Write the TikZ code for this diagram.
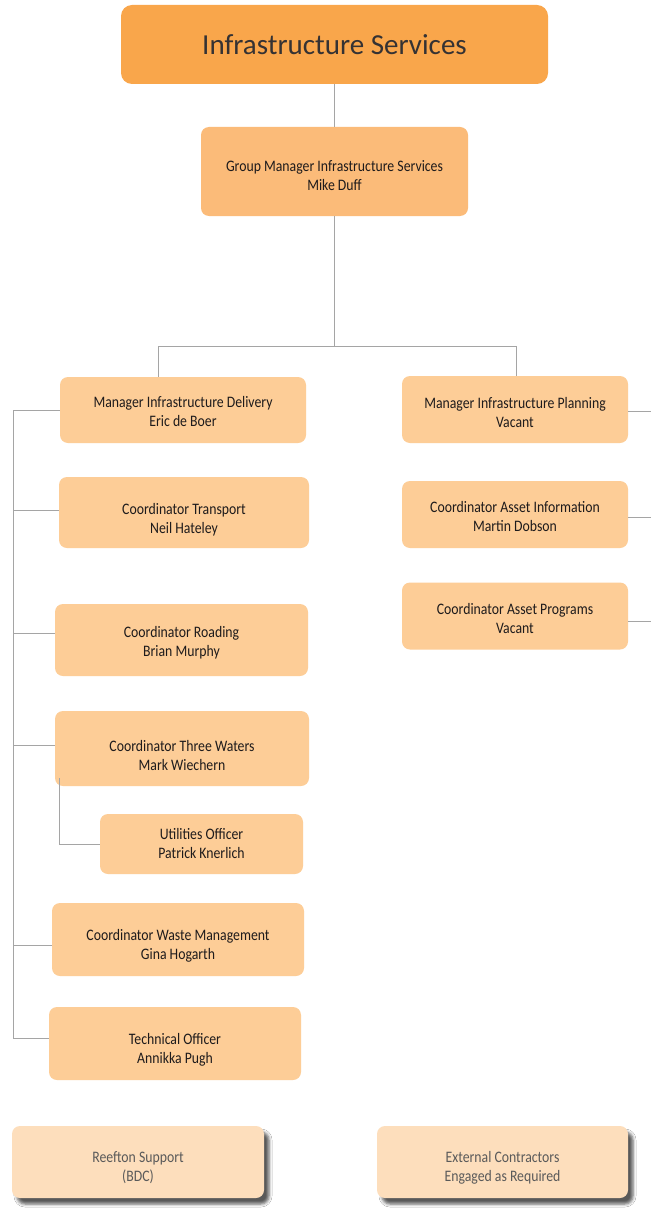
\documentclass[tikz,border=0pt]{standalone}
\usepackage{fontspec}
\setmainfont{Carlito}
\newfontfamily\narrowfont[FakeStretch=0.86]{Carlito}
\usetikzlibrary{shadows.blur}
\usepackage{xcolor}
\definecolor{titleorange}{RGB}{249,166,75}
\definecolor{headorange}{RGB}{251,187,121}
\definecolor{boxorange}{RGB}{253,205,151}
\definecolor{paleorange}{RGB}{253,222,188}
\definecolor{linegrey}{RGB}{165,165,165}
\definecolor{textdark}{RGB}{30,27,28}
\definecolor{textgrey}{RGB}{90,90,90}
\tikzset{
    orgbox/.style={
        rectangle,
        rounded corners=8pt,
        fill=boxorange,
        inner sep=0pt
    },
    orgtext/.style={
        text=textdark,
        align=center,
        inner sep=0pt,
        font=\narrowfont\fontsize{16}{19}\selectfont
    },
    titlebox/.style={
        orgbox,
        rounded corners=11pt,
        fill=titleorange,
        text=textdark!90,
        font=\fontsize{29}{32}\selectfont
    },
    extbox/.style={
        orgbox,
        fill=paleorange,
        blur shadow={shadow xshift=5pt, shadow yshift=-6pt,
            shadow blur radius=3pt, shadow opacity=65}
    },
    orgline/.style={
        draw=linegrey,
        line width=0.9pt
    }
}

\begin{document}
\begin{tikzpicture}[x=1pt,y=-1pt]

\fill[white] (0,0) rectangle (651,1209);
\useasboundingbox (0,0) rectangle (651,1209);

% ---------------------------------------------------------
% Top of the structure
% ---------------------------------------------------------
\node[titlebox, minimum width=427pt, minimum height=79pt]
    (title) at (334.5,44.5) {Infrastructure Services};

\node[orgbox, fill=headorange, minimum width=267pt, minimum height=89pt,
    label={[orgtext, yshift=-4pt]center:{Group Manager Infrastructure Services\\Mike Duff}}]
    (gm) at (334.5,171.5) {};

% ---------------------------------------------------------
% Delivery column
% ---------------------------------------------------------
\foreach \n/\cx/\cy/\w/\h/\dy/\role/\who in {
    mid/183/410/246/66/1/Manager Infrastructure Delivery/Eric de Boer,
    trans/184/512.5/250/71/7/Coordinator Transport/Neil Hateley,
    road/181.5/640/253/72/3/Coordinator Roading/Brian Murphy,
    water/182/748.5/254/75/7/Coordinator Three Waters/Mark Wiechern,
    util/201.5/844/203/60/-1/Utilities Officer/Patrick Knerlich,
    waste/178/939.5/252/73/6/Coordinator Waste Management/Gina Hogarth,
    tech/175/1043.5/252/73/6/Technical Officer/Annikka Pugh
}
{
    \node[orgbox, minimum width=\w pt, minimum height=\h pt,
        label={[orgtext, yshift=-\dy pt]center:{\role\\\who}}]
        (\n) at (\cx,\cy) {};
}

% ---------------------------------------------------------
% Planning column
% ---------------------------------------------------------
\foreach \n/\cy/\dy/\role/\who in {
    mip/409.5/3/Manager Infrastructure Planning/Vacant,
    cai/514.5/2/Coordinator Asset Information/Martin Dobson,
    cap/616/2/Coordinator Asset Programs/Vacant
}
{
    \node[orgbox, minimum width=226pt, minimum height=67pt,
        label={[orgtext, yshift=-\dy pt]center:{\role\\\who}}]
        (\n) at (515,\cy) {};
}

% ---------------------------------------------------------
% Outside support
% ---------------------------------------------------------
\node[extbox, minimum width=252pt, minimum height=72pt,
    label={[orgtext, text=textgrey, yshift=-6pt]center:{Reefton Support\\(BDC)}}]
    (reef) at (138,1162) {};
\node[extbox, minimum width=251pt, minimum height=72pt,
    label={[orgtext, text=textgrey, yshift=-6pt]center:{External Contractors\\Engaged as Required}}]
    (ext) at (502.5,1162) {};

% ---------------------------------------------------------
% Connectors
% ---------------------------------------------------------
\coordinate (splitL) at (158,346);
\coordinate (splitR) at (516,346);
\coordinate (trunk) at (13,410);
\coordinate (rightedge) at (651,410);

\draw[orgline] (title.south) -- (gm.north);
\draw[orgline] (gm.south) -- (gm.south |- splitL);
\draw[orgline] (splitL) -- (splitR);
\draw[orgline] (splitL) -- (splitL |- mid.north);
\draw[orgline] (splitR) -- (splitR |- mip.north);

% delivery trunk and its branches
\draw[orgline] (mid.west -| trunk) -- ([yshift=5.5pt]tech.west -| trunk);
\foreach \n/\sy in {mid/0,trans/2.5,road/7,water/3.5,waste/-5.5,tech/5.5}
    \draw[orgline] ([yshift=\sy pt]\n.west) -- ([yshift=\sy pt]\n.west -| trunk);

% three waters to utilities
\draw[orgline] (util.west) -| ([xshift=5pt,yshift=8pt]water.south west);

% planning branches
\foreach \n/\sy in {mip/-1.5,cai/-2.5,cap/-5}
    \draw[orgline] ([yshift=\sy pt]\n.east) -- ([yshift=\sy pt]\n.east -| rightedge);

\end{tikzpicture}
\end{document}
